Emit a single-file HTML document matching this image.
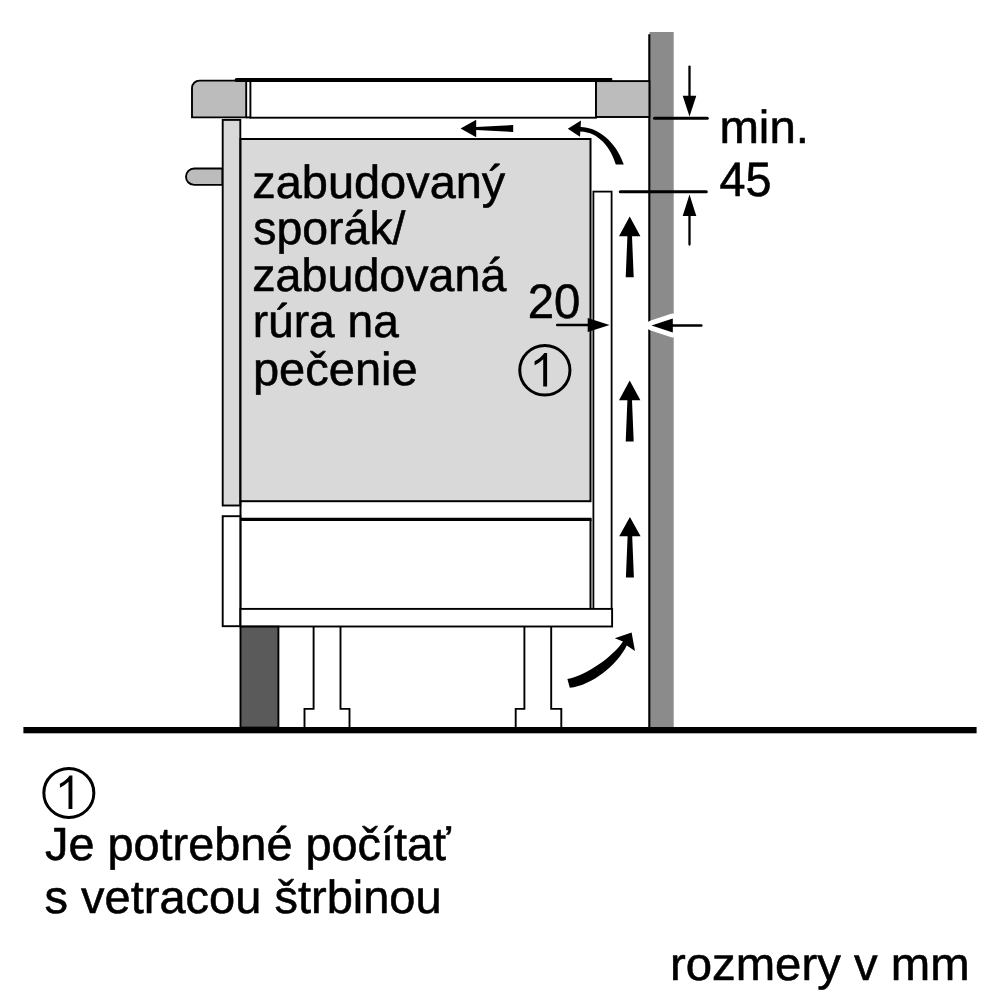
<!DOCTYPE html>
<html><head><meta charset="utf-8">
<style>
html,body{margin:0;padding:0;background:#fff;}
body{width:1000px;height:1000px;overflow:hidden;}
svg{display:block;}
text{font-family:"Liberation Sans",sans-serif;fill:#000;text-rendering:geometricPrecision;}
svg{will-change:transform;transform:translateZ(0);}
</style></head><body>
<svg width="1000" height="1000" viewBox="0 0 1000 1000">
<rect width="1000" height="1000" fill="#fff"/>

<!-- wall -->
<rect x="649.5" y="32" width="24.2" height="697" fill="#8b8b8b"/>
<line x1="649.3" y1="34.2" x2="649.3" y2="729" stroke="#000" stroke-width="2.1"/>

<!-- worktop left -->
<path d="M199.5,80.6 H246.2 V117.4 H192 V88.1 A7.5,7.5 0 0 1 199.5,80.6 Z" fill="#bcbcbc" stroke="#000" stroke-width="1.9" stroke-linejoin="miter"/>
<!-- hob -->
<rect x="250.4" y="80.6" width="345.6" height="37.1" fill="#fff" stroke="#000" stroke-width="1.9"/>
<line x1="246.2" y1="117.4" x2="251" y2="117.4" stroke="#000" stroke-width="1.9"/>
<path d="M236.6,82.1 A2.05,2.05 0 0 1 236.6,78 H612.2 V82.1 Z" fill="#000"/>
<!-- worktop right -->
<rect x="596" y="81.1" width="53.4" height="35.9" fill="#bcbcbc" stroke="#000" stroke-width="1.9"/>

<!-- handle -->
<path d="M222.5,168.5 H194.2 A8.2,8.2 0 0 0 194.2,184.9 H222.5 Z" fill="#bcbcbc" stroke="#000" stroke-width="1.9"/>
<!-- door strip -->
<rect x="222.7" y="119.9" width="17.6" height="385.6" fill="#d9d9d9" stroke="#000" stroke-width="1.9"/>
<!-- oven body -->
<rect x="240.5" y="139" width="350" height="362.2" fill="#d9d9d9" stroke="#000" stroke-width="2"/>
<!-- cabinet left vertical below oven -->
<line x1="240.5" y1="501" x2="240.5" y2="627" stroke="#000" stroke-width="2"/>
<!-- drawer front -->
<rect x="222.7" y="516.2" width="17.6" height="110" fill="#fff" stroke="#000" stroke-width="1.9"/>
<!-- drawer top thick line -->
<line x1="240.5" y1="519.3" x2="591.6" y2="519.3" stroke="#000" stroke-width="3.2"/>
<!-- drawer right line -->
<line x1="590.5" y1="519.3" x2="590.5" y2="609" stroke="#000" stroke-width="2"/>
<!-- rear panel -->
<rect x="593.4" y="191.6" width="18.2" height="417.4" fill="#fff" stroke="#000" stroke-width="1.8"/>
<!-- legs -->
<path d="M313.6,626.6 V708.9 H304.5 V728 H349.5 V708.9 H340.5 V626.6" fill="#fff" stroke="#000" stroke-width="1.9"/>
<path d="M524.4,626.6 V708.9 H515.7 V728 H561.3 V708.9 H551.2 V626.6" fill="#fff" stroke="#000" stroke-width="1.9"/>
<!-- bottom shelf -->
<rect x="240.5" y="608.9" width="371.6" height="17.6" fill="#fff" stroke="#000" stroke-width="1.9"/>

<!-- plinth -->
<rect x="240.5" y="626.6" width="37.9" height="101" fill="#5a5a5a" stroke="#000" stroke-width="1.9"/>

<!-- floor -->
<rect x="23.4" y="727" width="953.2" height="6.3" fill="#000"/>

<!-- dimension lines 45 -->
<line x1="654.5" y1="118.3" x2="707.3" y2="118.3" stroke="#000" stroke-width="3" stroke-linecap="round"/>
<line x1="620.3" y1="191.8" x2="706.3" y2="191.8" stroke="#000" stroke-width="3" stroke-linecap="round"/>
<line x1="689.5" y1="66.6" x2="689.5" y2="100" stroke="#000" stroke-width="2.3" stroke-linecap="round"/>
<path d="M689.5,116.4 L682.7,95.8 H696.3 Z" fill="#000"/>
<line x1="689.5" y1="212" x2="689.5" y2="244.6" stroke="#000" stroke-width="2.3" stroke-linecap="round"/>
<path d="M689.5,194.4 L682.7,216 H696.3 Z" fill="#000"/>

<!-- dimension 20 -->
<line x1="557.2" y1="325" x2="592" y2="325" stroke="#000" stroke-width="2.5" stroke-linecap="round"/>
<path d="M609.6,325.1 L587.7,318.1 V332.1 Z" fill="#000"/>
<path d="M651.5,325.5 L672.8,318.6 V332.4 Z" fill="#fff" stroke="#fff" stroke-width="10" stroke-linejoin="round"/>
<line x1="668" y1="325.6" x2="701.3" y2="325.6" stroke="#000" stroke-width="2.5" stroke-linecap="round"/>
<path d="M651.5,325.5 L672.8,318.6 V332.4 Z" fill="#000"/>

<!-- airflow arrows -->
<path d="M629.7,216.6 L640.4000000000001,236.2 L632.0,236.2 L633.7,277.2 L625.7,277.2 L627.4000000000001,236.2 L619.0,236.2 Z" fill="#000"/>
<path d="M629.7,380.6 L640.4000000000001,400.2 L632.0,400.2 L633.7,441.6 L625.7,441.6 L627.4000000000001,400.2 L619.0,400.2 Z" fill="#000"/>
<path d="M629.9,517.0 L640.6,536.2 L632.1999999999999,536.2 L633.9,577.4 L625.9,577.4 L627.6,536.2 L619.1999999999999,536.2 Z" fill="#000"/>

<!-- horizontal arrow -->
<path d="M460.6,128.5 L476.2,119.8 V127.1 L513.2,125 V132 L476.2,129.9 V137.2 Z" fill="#000"/>
<!-- top curved arrow -->
<path d="M567.8,128.8 L581,120.4 L580.6,126.9 C597,127 616,141 623.8,164.6 H615.8 C611,148 599,132 580.3,131.4 L580,136.8 Z" fill="#000"/>
<!-- bottom curved arrow -->
<path d="M567.4,679 C587,674.8 612.5,657 623,641.4 L614.8,638.2 L631.6,632.6 L635,651 L626.8,645.4 C617,665 592.5,685 569.8,687.8 Z" fill="#000"/>

<!-- circled 1 (in oven) -->
<ellipse cx="544.85" cy="370.25" rx="25.1" ry="24.7" fill="none" stroke="#000" stroke-width="3"/>
<path d="M547.1,353.05 L547.1,386.6 L543.2,386.6 L543.2,359.3 Q539.5,363 534.6,365.2 L534.6,361.3 Q541,358 544.3,353.05 Z" fill="#000"/>
<!-- circled 1 (legend) -->
<ellipse cx="68.85" cy="792.9" rx="25" ry="24.5" fill="none" stroke="#000" stroke-width="3"/>
<path transform="translate(-474.7,422.5)" d="M547.1,353.05 L547.1,386.6 L543.2,386.6 L543.2,359.3 Q539.5,363 534.6,365.2 L534.6,361.3 Q541,358 544.3,353.05 Z" fill="#000"/>

<!-- text -->
<g font-size="46.5" stroke="#000" stroke-width="0.55" stroke-linejoin="round">
<text x="252.29" y="197.7" textLength="252.99" lengthAdjust="spacingAndGlyphs">zabudovaný</text>
<text x="253.25" y="243.75" textLength="152.25" lengthAdjust="spacingAndGlyphs">sporák/</text>
<text x="252.3" y="290.8" textLength="254.04" lengthAdjust="spacingAndGlyphs">zabudovaná</text>
<text x="252.77" y="337.0" textLength="146.12" lengthAdjust="spacingAndGlyphs">rúra na</text>
<text x="252.97" y="384.7" textLength="164.74" lengthAdjust="spacingAndGlyphs">pečenie</text>
<text x="719.4" y="143.25" textLength="89.54" lengthAdjust="spacingAndGlyphs">min.</text>
<text x="719.5" y="195.75" textLength="52.0" lengthAdjust="spacingAndGlyphs" transform="translate(0,195.75) scale(1,1.04) translate(0,-195.75)">45</text>
<text x="527.66" y="317.6" textLength="52.65" lengthAdjust="spacingAndGlyphs" transform="translate(0,317.6) scale(1,1.04) translate(0,-317.6)">20</text>
<text x="45.0" y="860.0" textLength="405.64" lengthAdjust="spacingAndGlyphs">Je potrebné počítať</text>
<text x="44.49" y="912.5" textLength="397.17" lengthAdjust="spacingAndGlyphs">s vetracou štrbinou</text>
<text x="669.95" y="979.5" textLength="299.65" lengthAdjust="spacingAndGlyphs">rozmery v mm</text>
</g>
</svg>
</body></html>
